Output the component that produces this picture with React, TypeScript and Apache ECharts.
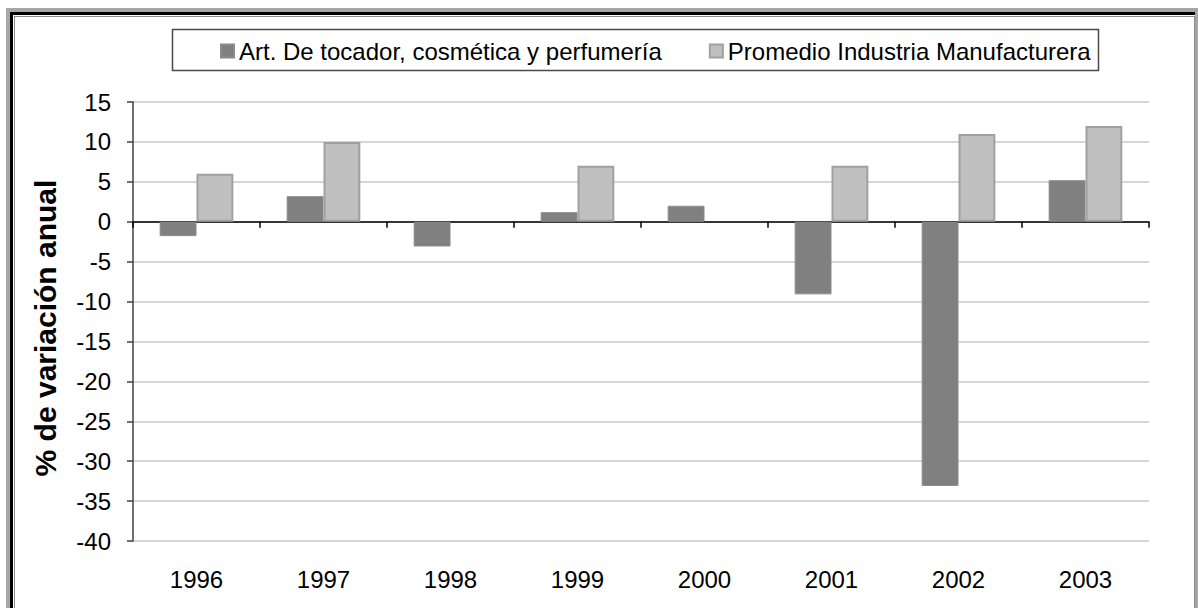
import React, { useEffect, useRef } from "react";
import * as echarts from "echarts";

const years = ["1996", "1997", "1998", "1999", "2000", "2001", "2002", "2003"];
const tocador = [-1.8, 3.2, -3.1, 1.2, 2.0, -9.1, -33.1, 5.2];
const promedio = [6.0, 10.0, null, 7.0, null, 7.0, 11.0, 12.0];
const seriesNames = ["Art. De tocador, cosmética y perfumería", "Promedio Industria Manufacturera"];
const yTitle = "% de variación anual";

const FONT = "'Liberation Sans', Arial, sans-serif";

export default function App() {
  const ref = useRef<HTMLDivElement>(null);
  useEffect(() => {
    if (!ref.current) return;
    const chart = echarts.init(ref.current, undefined, { renderer: "svg" });
    chart.setOption({
      animation: false,
      backgroundColor: "#ffffff",
      textStyle: { fontFamily: FONT },
      graphic: [
        { type: "rect", z: -10, shape: { x: 6, y: 8, width: 1200, height: 700 }, style: { fill: "#a6a6a6" } },
        { type: "rect", z: -10, shape: { x: 10, y: 12, width: 1185, height: 700 }, style: { fill: "#000000" } },
        { type: "rect", z: -10, shape: { x: 13, y: 15, width: 1182, height: 700 }, style: { fill: "#ffffff" } },
        { type: "rect", z: -10, shape: { x: 14, y: 16, width: 1181, height: 700 }, style: { fill: "#8c8c8c" } },
        { type: "rect", z: -10, shape: { x: 15, y: 17, width: 1179, height: 700 }, style: { fill: "#ffffff" } },
        { type: "rect", z: -5, shape: { x: 172.5, y: 29.5, width: 926, height: 41 }, style: { fill: "#ffffff", stroke: "#4a4a4a", lineWidth: 1.5 } },
        {
          type: "text",
          z: 5,
          x: 45,
          y: 328,
          rotation: Math.PI / 2,
          style: { text: yTitle, font: "bold 30px 'Liberation Sans', Arial, sans-serif", fill: "#000", textAlign: "center", textVerticalAlign: "middle" },
        },
      ],
      legend: {
        left: 220,
        top: 39,
        padding: 0,
        itemWidth: 13,
        itemHeight: 13,
        itemGap: 47,
        icon: "rect",
        textStyle: { fontSize: 24, color: "#000", fontFamily: FONT, lineHeight: 24 },
        data: seriesNames,
      },
      grid: { left: 133, right: 49, top: 102, bottom: 67 },
      xAxis: [
        {
          type: "category",
          data: years,
          axisLine: { onZero: true, lineStyle: { color: "#000", width: 1.5 } },
          axisTick: { show: true, length: 6, lineStyle: { color: "#000", width: 1.5 } },
          axisLabel: { show: false },
        },
        {
          type: "category",
          data: years,
          position: "bottom",
          axisLine: { show: false, onZero: false },
          axisTick: { show: false },
          axisLabel: { show: true, margin: 26, fontSize: 24, color: "#000", fontFamily: FONT },
        },
      ],
      yAxis: {
        type: "value",
        min: -40,
        max: 15,
        interval: 5,
        axisLine: { show: true, lineStyle: { color: "#404040", width: 1.5 } },
        axisTick: { show: true, length: 6, lineStyle: { color: "#404040", width: 1.5 } },
        axisLabel: { margin: 22, fontSize: 24, color: "#000", fontFamily: FONT },
        splitLine: { show: true, lineStyle: { color: "#d6d6d6", width: 2 } },
      },
      series: [
        {
          name: seriesNames[0],
          type: "bar",
          xAxisIndex: 0,
          data: tocador,
          barGap: "0%",
          barCategoryGap: "42%",
          itemStyle: { color: "#808080", borderColor: "#8a8a8a", borderWidth: 1 },
        },
        {
          name: seriesNames[1],
          type: "bar",
          xAxisIndex: 0,
          data: promedio,
          barGap: "0%",
          barCategoryGap: "42%",
          itemStyle: { color: "#c0c0c0", borderColor: "#a0a0a0", borderWidth: 2 },
        },
      ],
    });
    return () => chart.dispose();
  }, []);
  return (
    <div
      ref={ref}
      style={{ position: "fixed", left: 0, top: 0, width: 1198, height: 608 }}
    />
  );
}
